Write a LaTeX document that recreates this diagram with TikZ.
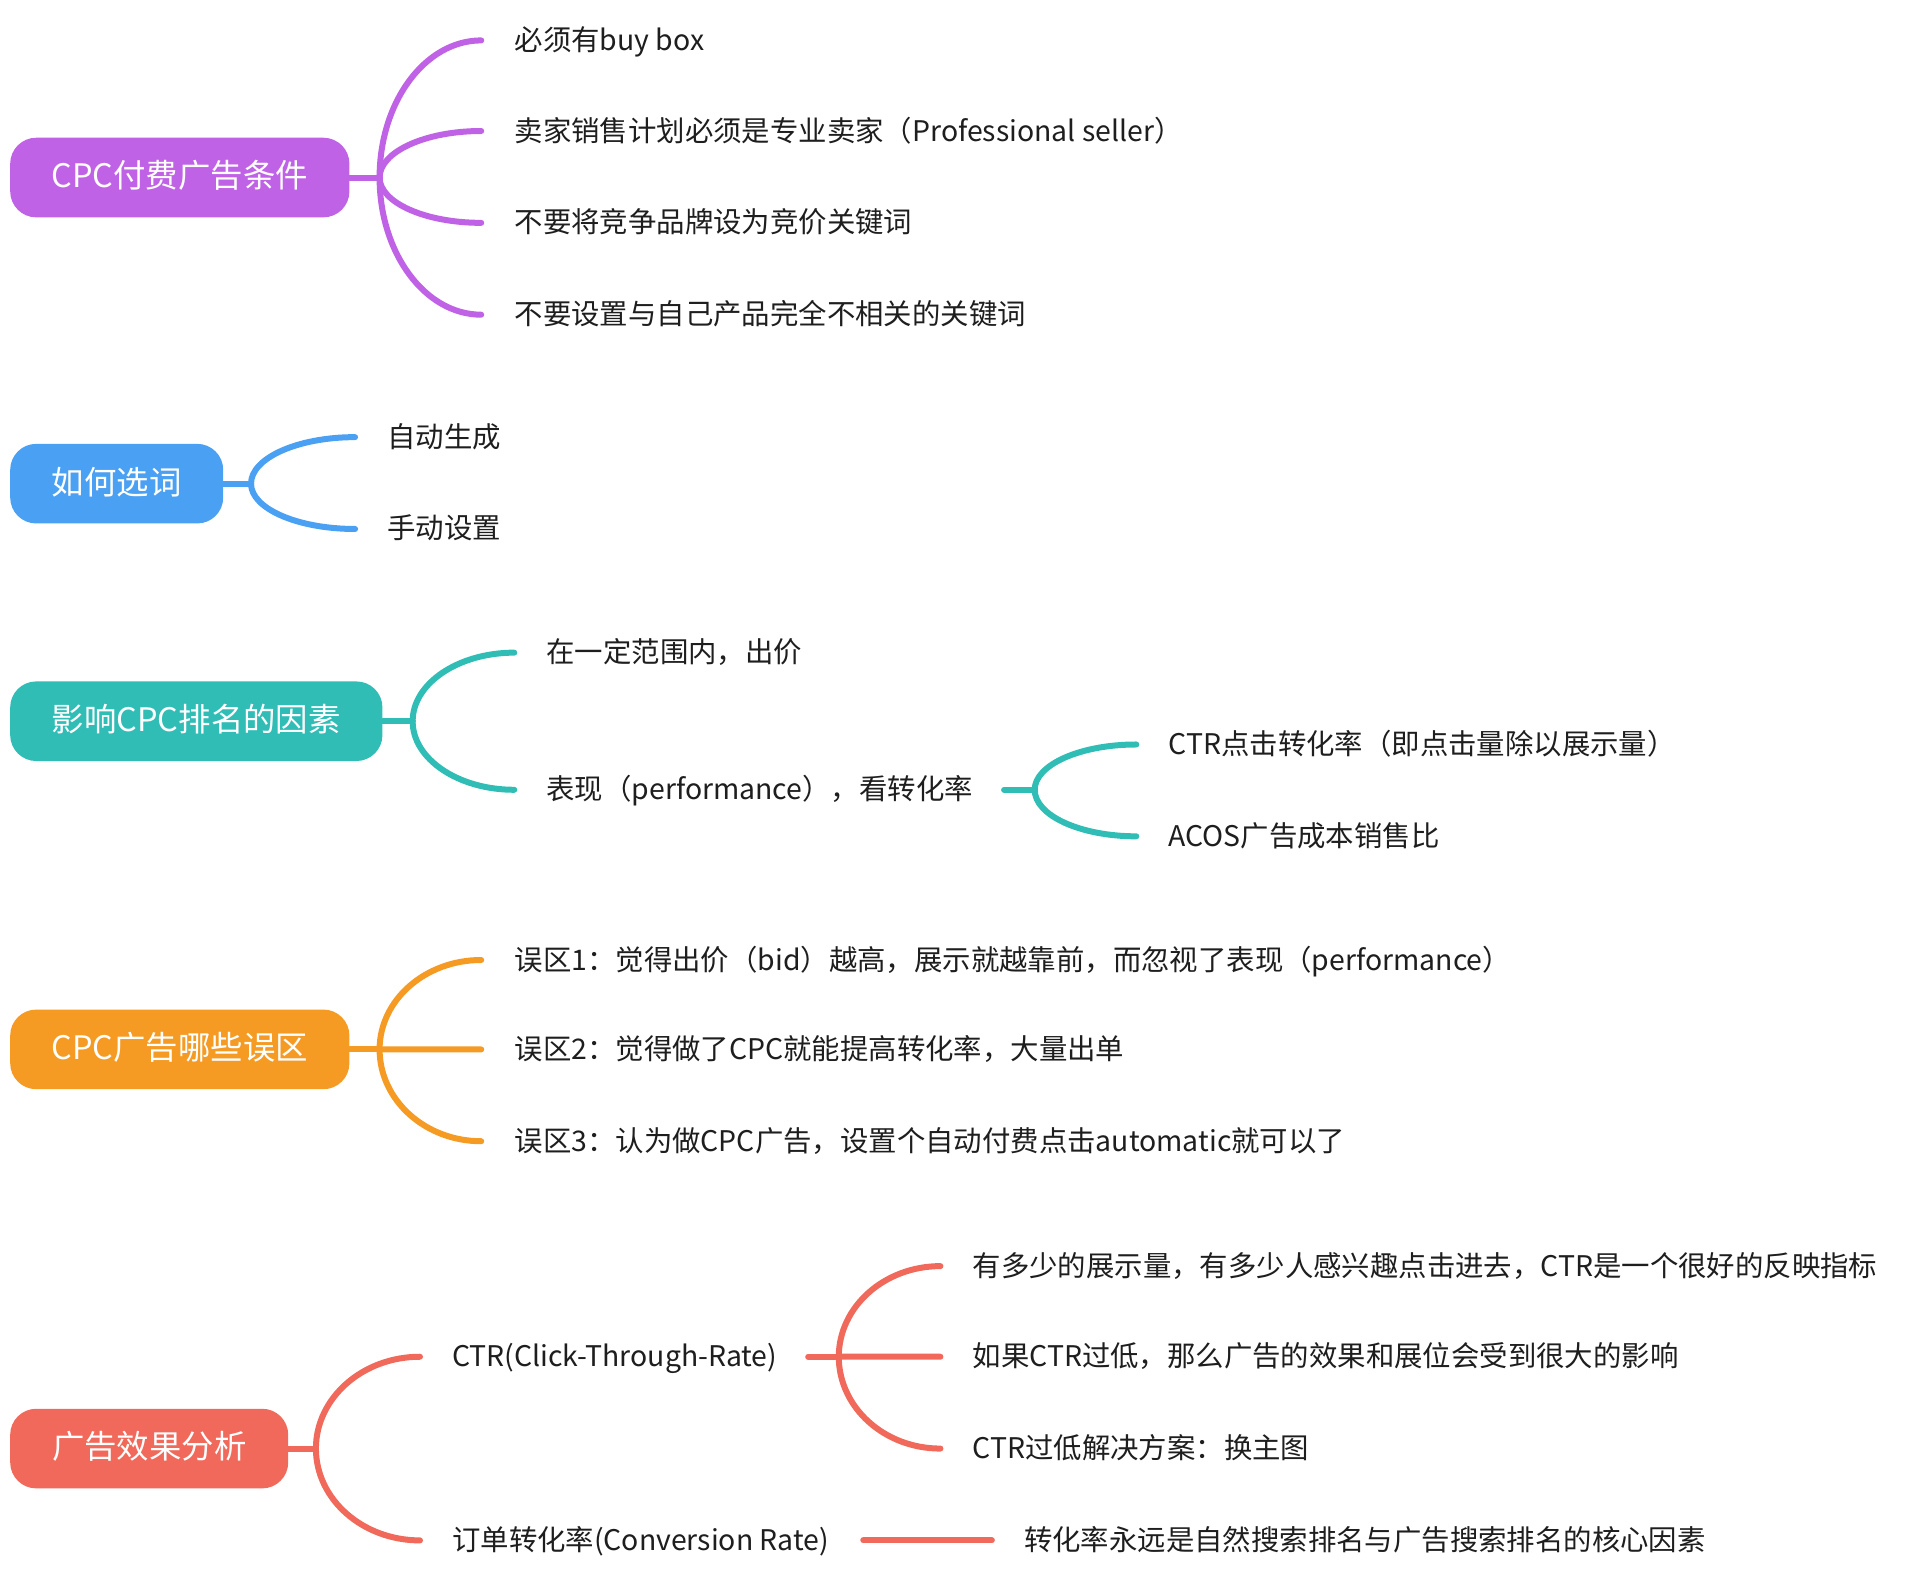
\documentclass[tikz,border=0pt]{standalone}
\usepackage{fontspec}
\setmainfont{Noto Sans CJK SC}
\usetikzlibrary{calc}
\definecolor{cpur}{HTML}{C062E6}
\definecolor{cblu}{HTML}{4AA0F2}
\definecolor{ctea}{HTML}{2FBDB6}
\definecolor{cora}{HTML}{F59A22}
\definecolor{cred}{HTML}{F0695A}
\definecolor{ctxt}{HTML}{1E1E1E}
\tikzset{
  x=0.6122pt, y=-0.6122pt,
  topic/.style={rounded corners=13pt, inner xsep=0pt, inner ysep=0pt,
    minimum height=39.8pt, text=white, font=\fontsize{16.2}{19}\selectfont,
    text height=1.04em, text depth=0em, anchor=west},
  leaf/.style={anchor=west, inner sep=0pt, text=ctxt,
    font=\fontsize{14.2}{17}\selectfont, text height=1.0em, text depth=0em},
  conn/.style={line width=3pt, line cap=round},
}
\newcommand{\brch}[3]{\draw[conn,#1] (#2) .. controls ($(#2)!0.552!(#2|-#3)$) and ($(#3)!0.552!(#2|-#3)$) .. (#3);}
\begin{document}
\begin{tikzpicture}
\useasboundingbox[fill=white] (0,0) rectangle (1568,1289);

% ---------- group 1 ----------
\node[topic, fill=cpur, minimum width=169.6pt] (t1) at (8,145) {CPC付费广告条件};
\coordinate (j1) at (310,145);
\coordinate (e11) at (393,33);
\coordinate (e12) at (393,107);
\coordinate (e13) at (393,182);
\coordinate (e14) at (393,257);
\node[leaf] (l11) at (420,33) {必须有buy box};
\node[leaf] (l12) at (420,107) {卖家销售计划必须是专业卖家（Professional seller）};
\node[leaf] (l13) at (420,182) {不要将竞争品牌设为竞价关键词};
\node[leaf] (l14) at (420,257) {不要设置与自己产品完全不相关的关键词};
\draw[conn,cpur] (t1.east) -- (j1);
\brch{cpur}{j1}{e11}
\brch{cpur}{j1}{e12}
\brch{cpur}{j1}{e13}
\brch{cpur}{j1}{e14}

% ---------- group 2 ----------
\node[topic, fill=cblu, minimum width=106.5pt] (t2) at (8,395) {如何选词};
\coordinate (j2) at (205,395);
\coordinate (e21) at (290,357);
\coordinate (e22) at (290,432);
\node[leaf] (l21) at (316,357) {自动生成};
\node[leaf] (l22) at (316,432) {手动设置};
\draw[conn,cblu] (t2.east) -- (j2);
\brch{cblu}{j2}{e21}
\brch{cblu}{j2}{e22}

% ---------- group 3 ----------
\node[topic, fill=ctea, minimum width=186.1pt] (t3) at (8,589) {影响CPC排名的因素};
\coordinate (j3) at (337,589);
\coordinate (e31) at (420,533);
\coordinate (e32) at (420,645);
\node[leaf] (l31) at (446,533) {在一定范围内，出价};
\node[leaf] (l32) at (446,645) {表现（performance），看转化率};
\draw[conn,ctea] (t3.east) -- (j3);
\brch{ctea}{j3}{e31}
\brch{ctea}{j3}{e32}
\coordinate (s32) at (820,645);
\coordinate (j32) at (845,645);
\coordinate (e321) at (928,608);
\coordinate (e322) at (928,683);
\node[leaf] (l321) at (954,608) {CTR点击转化率（即点击量除以展示量）};
\node[leaf] (l322) at (954,683) {ACOS广告成本销售比};
\draw[conn,ctea] (s32) -- (j32);
\brch{ctea}{j32}{e321}
\brch{ctea}{j32}{e322}

% ---------- group 4 ----------
\node[topic, fill=cora, minimum width=169.6pt] (t4) at (8,857) {CPC广告哪些误区};
\coordinate (j4) at (310,857);
\coordinate (e41) at (393,784);
\coordinate (e42) at (393,857);
\coordinate (e43) at (393,932);
\node[leaf] (l41) at (420,784) {误区1：觉得出价（bid）越高，展示就越靠前，而忽视了表现（performance）};
\node[leaf] (l42) at (420,857) {误区2：觉得做了CPC就能提高转化率，大量出单};
\node[leaf] (l43) at (420,932) {误区3：认为做CPC广告，设置个自动付费点击automatic就可以了};
\draw[conn,cora] (t4.east) -- (j4);
\brch{cora}{j4}{e41}
\brch{cora}{j4}{e42}
\brch{cora}{j4}{e43}

% ---------- group 5 ----------
\node[topic, fill=cred, minimum width=139.0pt] (t5) at (8,1183) {广告效果分析};
\coordinate (j5) at (258,1183);
\coordinate (e51) at (343,1108);
\coordinate (e52) at (343,1258);
\node[leaf] (l51) at (369,1108) {CTR(Click-Through-Rate)};
\node[leaf] (l52) at (369,1258) {订单转化率(Conversion Rate)};
\draw[conn,cred] (t5.east) -- (j5);
\brch{cred}{j5}{e51}
\brch{cred}{j5}{e52}
\coordinate (s51) at (660,1108);
\coordinate (j51) at (685,1108);
\coordinate (e511) at (768,1034);
\coordinate (e512) at (768,1108);
\coordinate (e513) at (768,1183);
\node[leaf] (l511) at (794,1034) {有多少的展示量，有多少人感兴趣点击进去，CTR是一个很好的反映指标};
\node[leaf] (l512) at (794,1108) {如果CTR过低，那么广告的效果和展位会受到很大的影响};
\node[leaf] (l513) at (794,1183) {CTR过低解决方案：换主图};
\draw[conn,cred] (s51) -- (j51);
\brch{cred}{j51}{e511}
\brch{cred}{j51}{e512}
\brch{cred}{j51}{e513}
\coordinate (s52) at (705,1258);
\coordinate (e521) at (810,1258);
\node[leaf] (l521) at (836,1258) {转化率永远是自然搜索排名与广告搜索排名的核心因素};
\draw[conn,cred] (s52) -- (e521);
\end{tikzpicture}
\end{document}
